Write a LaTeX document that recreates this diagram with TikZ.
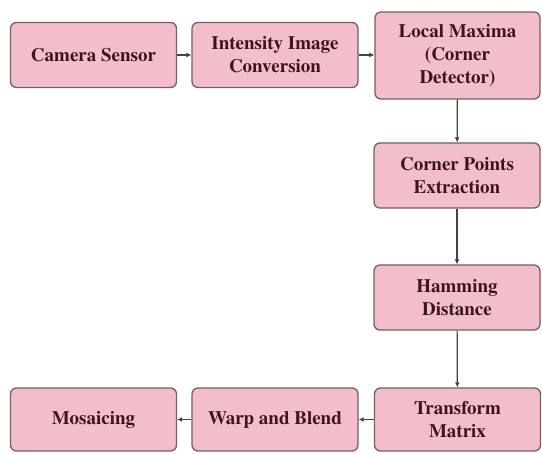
\documentclass[tikz,border=0pt]{standalone}
\usepackage[T1]{fontenc}
\usepackage{times}
\usetikzlibrary{arrows.meta}
\definecolor{boxfill}{RGB}{242,190,202}
\definecolor{boxdraw}{RGB}{115,95,100}
\definecolor{linecol}{RGB}{70,65,68}
\definecolor{txtcol}{RGB}{60,20,30}
\tikzset{
  blk/.style={draw=boxdraw, line width=1.3pt, fill=boxfill, rounded corners=6pt,
    align=center, font=\fontsize{19}{23}\selectfont\bfseries, text=txtcol,
    inner sep=0pt, minimum width=166pt, minimum height=65pt},
  conn/.style={draw=linecol, line width=1.2pt, -{Latex[length=5pt,width=5pt]}}
}
\begin{document}
\begin{tikzpicture}[x=1pt,y=1pt]
\useasboundingbox (0,0) rectangle (542,454);
\node[blk] (cam) at (93.5,399) {Camera Sensor};
\node[blk] (int) at (275,399) {Intensity Image\\Conversion};
\node[blk, minimum width=165pt, minimum height=87pt] (lm) at (457.5,398.5) {Local Maxima\\(Corner\\Detector)};
\node[blk] (cp) at (457,278.5) {Corner Points\\Extraction};
\node[blk] (hd) at (457,156.5) {Hamming\\Distance};
\node[blk, minimum height=63pt] (tm) at (457.5,34.5) {Transform\\Matrix};
\node[blk, minimum height=63pt] (wb) at (275,34.5) {Warp and Blend};
\node[blk, minimum height=63pt] (mo) at (93.5,34.5) {Mosaicing};
\draw[conn] (cam) -- (int);
\draw[conn] (int.east) -- (int.east -| lm.west);
\draw[conn] (lm) -- (cp);
\draw[conn] (cp) -- (hd);
\draw[conn] (hd) -- (tm);
\draw[conn] (tm) -- (wb);
\draw[conn] (wb) -- (mo);
\end{tikzpicture}
\end{document}
